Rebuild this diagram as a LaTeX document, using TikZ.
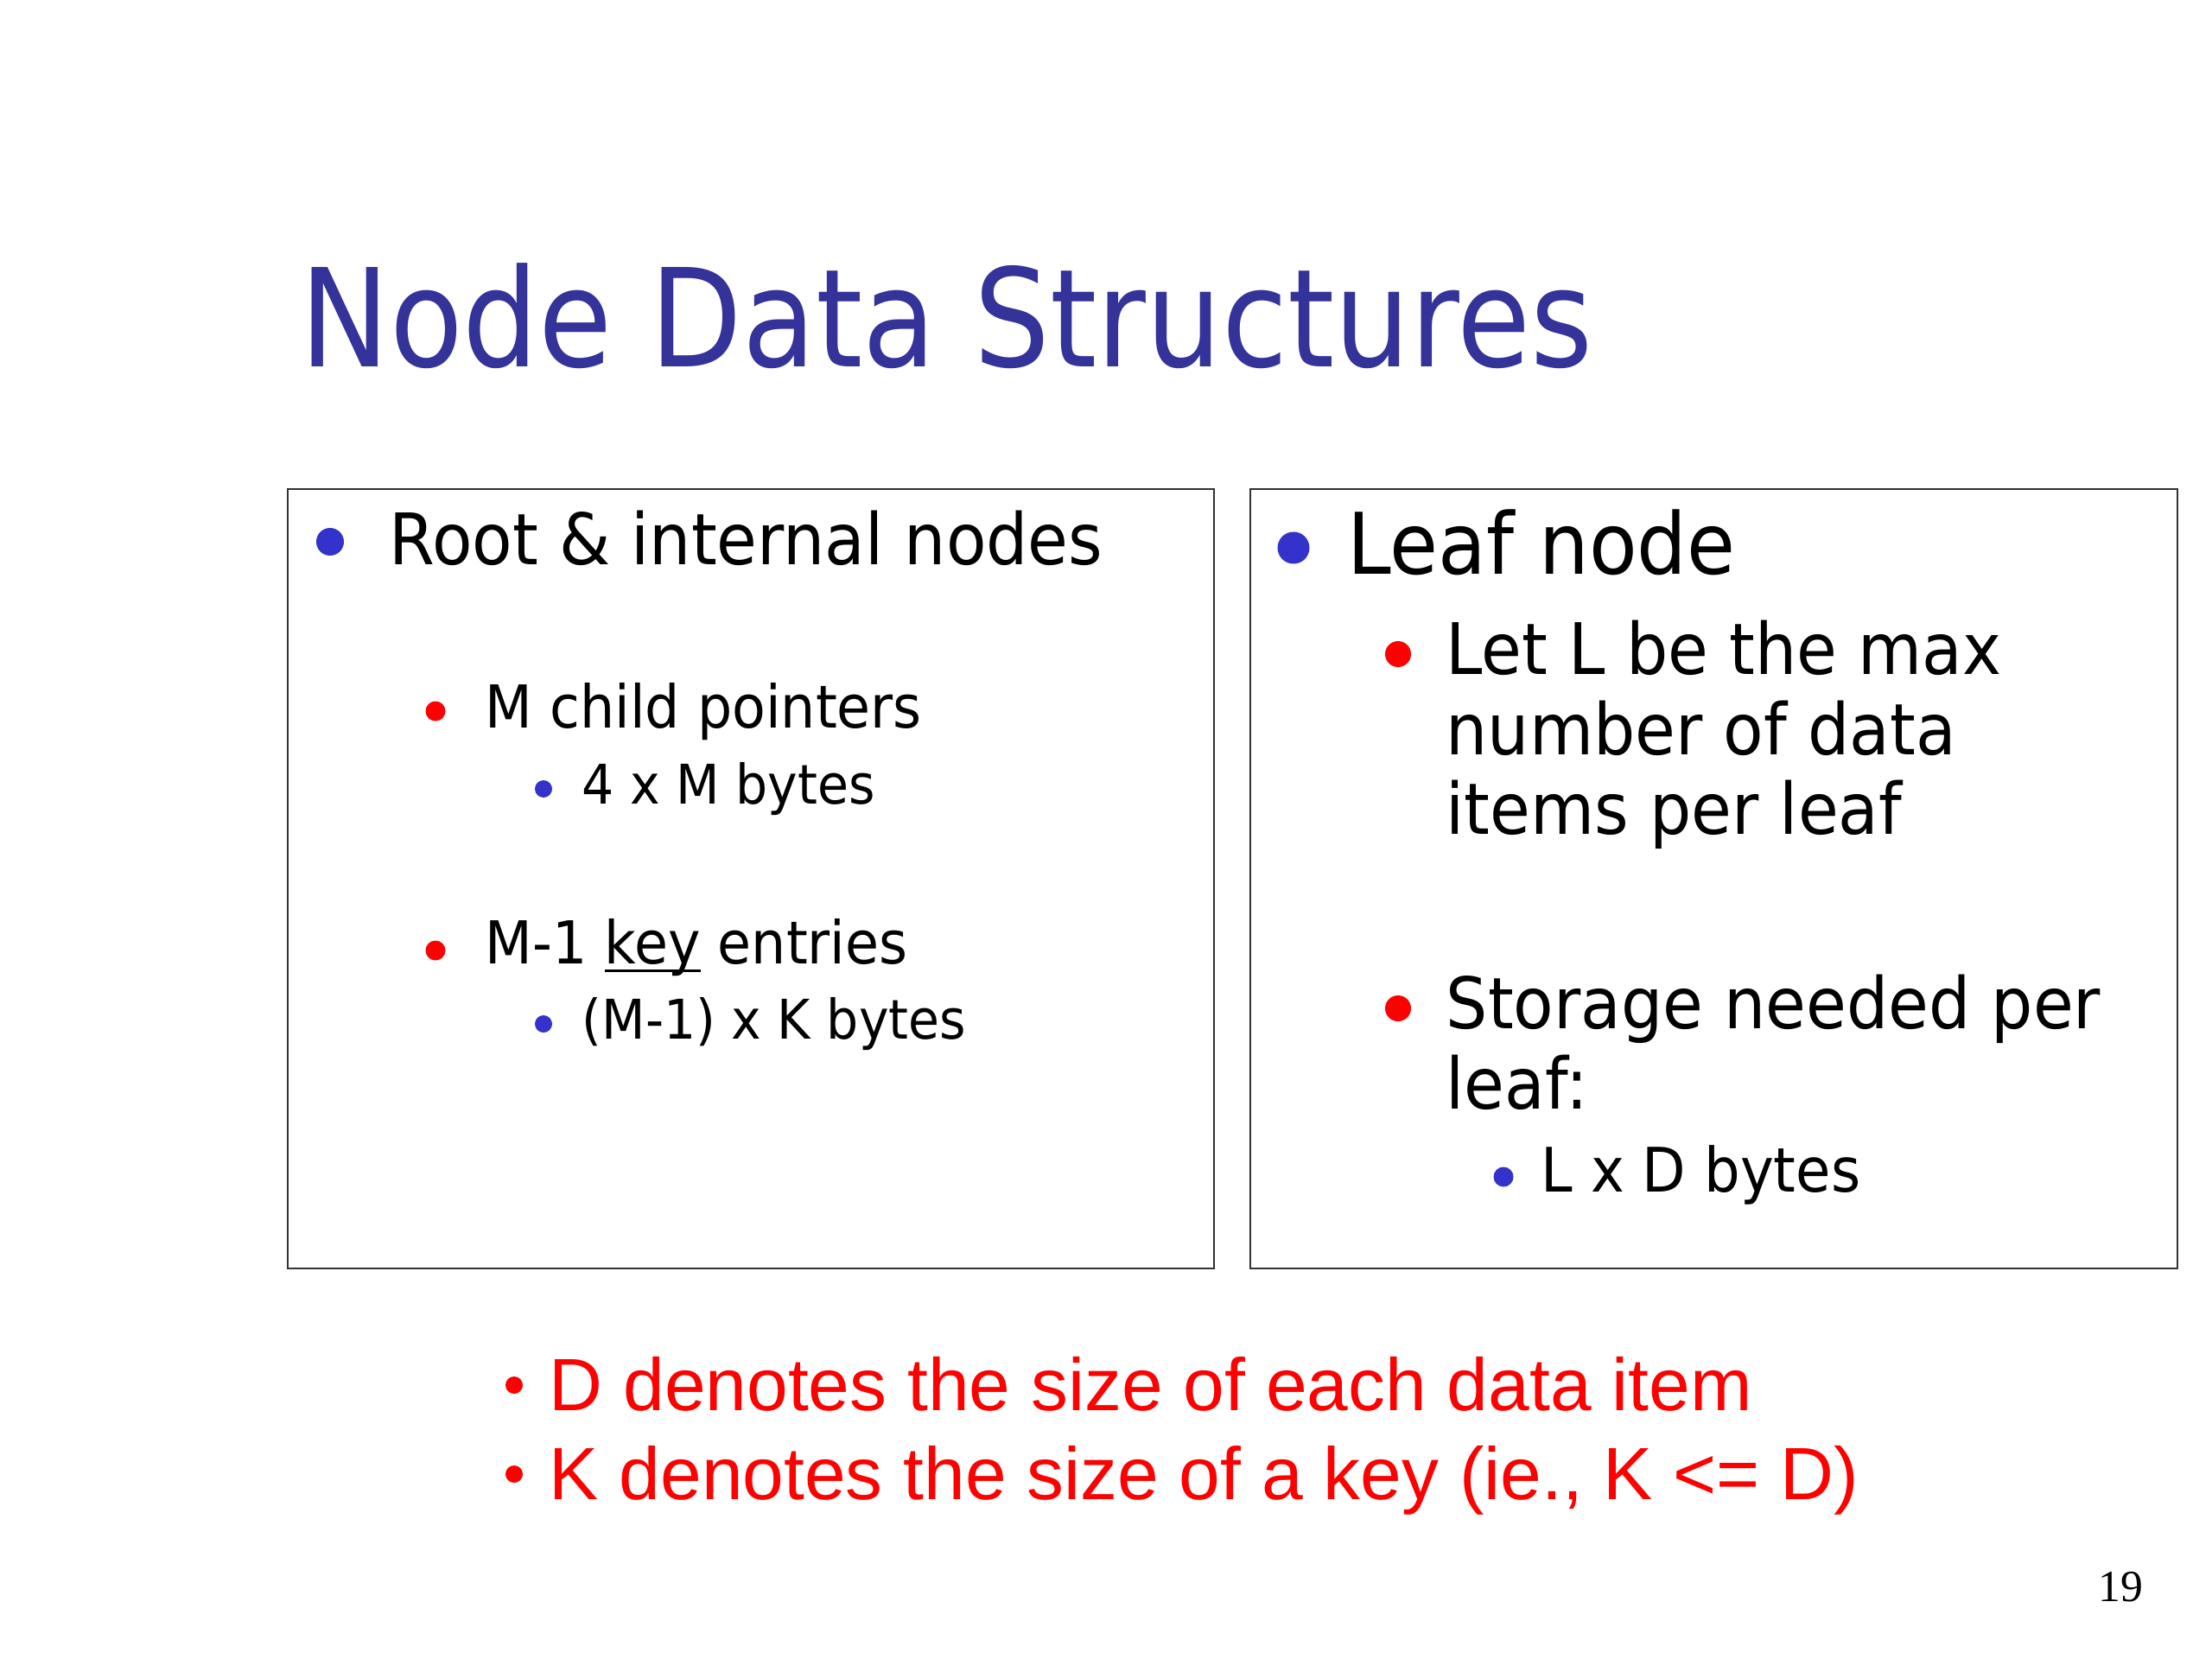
\documentclass[tikz,border=0pt]{standalone}
\usepackage{fontspec}
\usepackage{tikz}
\newfontfamily\tahoma{DejaVu Sans}[FakeStretch=0.925]
\newfontfamily\tahomahead{DejaVu Sans}[FakeStretch=0.877]
\newfontfamily\arialfont{Liberation Sans}
\newfontfamily\timesfont{Liberation Serif}
\definecolor{titleblue}{RGB}{51,51,153}
\definecolor{dotblue}{RGB}{51,51,204}
\definecolor{dotred}{RGB}{255,0,0}
\newcommand\keyline[1]{\setbox0\hbox{#1}\rlap{\rule[-2.9pt]{\wd0}{0.85pt}}\box0\relax}

\begin{document}
\begin{tikzpicture}[
    txt/.style={inner sep=0pt,anchor=base west},
    dot/.style={circle,inner sep=0pt,minimum size=#1},
    lvlone/.style={txt,font=\tahoma\fontsize{23.4}{28}\selectfont},
    lvltwo/.style={txt,font=\tahoma\fontsize{19.5}{24}\selectfont},
    lvlthree/.style={txt,font=\tahoma\fontsize{18}{22}\selectfont},
    leafone/.style={txt,font=\tahoma\fontsize{28}{33}\selectfont},
    leaftwo/.style={txt,font=\tahoma\fontsize{23.4}{28}\selectfont},
    leafthree/.style={txt,font=\tahoma\fontsize{20.2}{24}\selectfont},
    note/.style={txt,text=dotred,font=\arialfont\fontsize{24.4}{29}\selectfont}
  ]
    \useasboundingbox[fill=white] (0,0) rectangle (25.6,-19.2);
    % title
    \node[txt,text=titleblue,font=\tahomahead\fontsize{44.9}{50}\selectfont]
      (title) at (3.47,-4.25) {Node Data Structures};
    % the two boxes
    \draw[line width=0.75pt,black!80] (3.33,-5.66) rectangle (14.05,-14.68);
    \draw[line width=0.75pt,black!80] (14.47,-5.66) rectangle (25.20,-14.68);
    % left box
    \node[dot=0.32cm,fill=dotblue] (broot) at (3.82,-6.27) {};
    \node[lvlone] (root) at (4.50,-6.53) {Root \& internal nodes};
    \node[dot=0.23cm,fill=dotred] (bchild) at (5.04,-8.23) {};
    \node[lvltwo] (child) at (5.61,-8.42) {M child pointers};
    \node[dot=0.20cm,fill=dotblue] (bmbytes) at (6.29,-9.13) {};
    \node[lvlthree] (mbytes) at (6.73,-9.30) {4 x M bytes};
    \node[dot=0.23cm,fill=dotred] (bkey) at (5.04,-11.00) {};
    \node[lvltwo] (key) at (5.61,-11.15) {M-1 \keyline{key} entries};
    \node[dot=0.20cm,fill=dotblue] (bkbytes) at (6.29,-11.85) {};
    \node[lvlthree] (kbytes) at (6.73,-12.02) {(M-1) x K bytes};
    % right box
    \node[dot=0.37cm,fill=dotblue] (bleaf) at (14.97,-6.34) {};
    \node[leafone] (leaf) at (15.59,-6.65) {Leaf node};
    \node[dot=0.30cm,fill=dotred] (blet) at (16.18,-7.57) {};
    \node[leaftwo] (leta) at (16.73,-7.80) {Let L be the max};
    \node[leaftwo] (letb) at (16.73,-8.73) {number of data};
    \node[leaftwo] (letc) at (16.73,-9.65) {items per leaf};
    \node[dot=0.30cm,fill=dotred] (bstore) at (16.18,-11.67) {};
    \node[leaftwo] (storea) at (16.73,-11.90) {Storage needed per};
    \node[leaftwo] (storeb) at (16.73,-12.83) {leaf:};
    \node[dot=0.23cm,fill=dotblue] (bldbytes) at (17.40,-13.62) {};
    \node[leafthree] (ldbytes) at (17.83,-13.79) {L x D bytes};
    % notes under the boxes
    \node[dot=0.20cm,fill=dotred] (bdnote) at (5.95,-16.03) {};
    \node[note] (dnote) at (6.35,-16.32) {D denotes the size of each data item};
    \node[dot=0.20cm,fill=dotred] (bknote) at (5.95,-17.06) {};
    \node[note] (knote) at (6.35,-17.35) {K denotes the size of a key (ie., K <= D)};
    % page number
    \node[txt,font=\timesfont\fontsize{14.7}{17}\selectfont] (pagenum) at (24.28,-18.53) {19};
  \end{tikzpicture}
\end{document}
